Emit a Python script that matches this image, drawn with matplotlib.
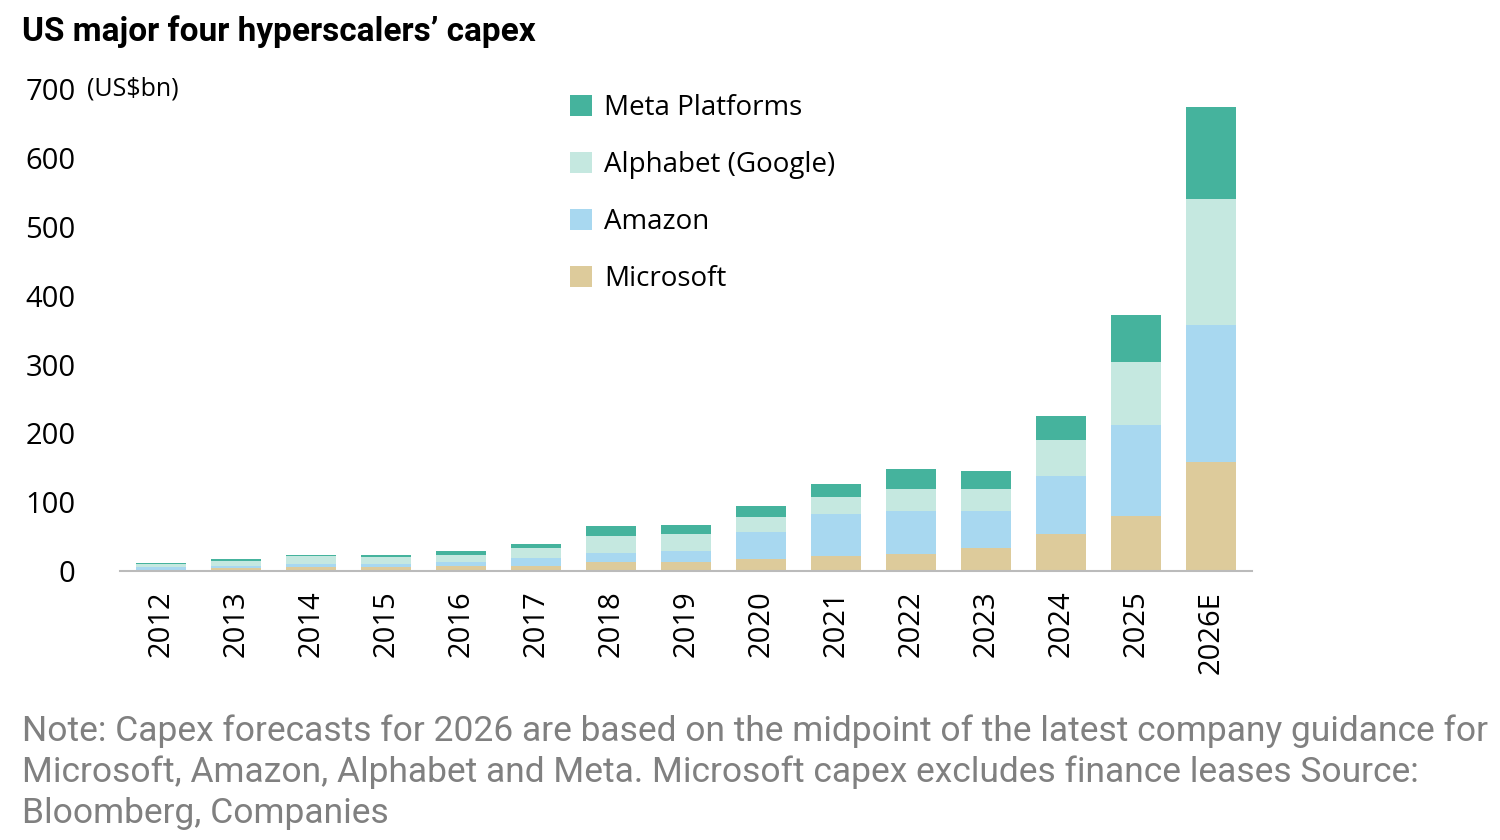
import matplotlib

matplotlib.use("Agg")
import matplotlib.pyplot as plt
import numpy as np

years = ["2012", "2013", "2014", "2015", "2016", "2017", "2018", "2019",
         "2020", "2021", "2022", "2023", "2024", "2025", "2026E"]
microsoft = [2, 4, 6, 6, 8, 8, 13, 13, 17, 22, 25, 33, 54, 80, 158]
amazon = [4, 3, 5, 5, 6, 11, 13, 16, 40, 61, 62, 54, 84, 132, 199]
alphabet = [5, 8, 11, 10, 10, 14, 25, 25, 21, 24, 32, 32, 52, 91, 184]
meta = [1, 2, 2, 3, 6, 6, 14, 13, 16, 19, 30, 27, 36, 69, 133]

series = [("Microsoft", microsoft, "#DDCB9B"),
          ("Amazon", amazon, "#A8D8F0"),
          ("Alphabet (Google)", alphabet, "#C5E8E0"),
          ("Meta Platforms", meta, "#45B39D")]

LABEL_FONT = ["Open Sans", "DejaVu Sans"]
plt.rcParams["font.family"] = ["Roboto", "DejaVu Sans"]
fig = plt.figure(figsize=(15, 8.4), dpi=100)
ax = fig.add_axes([0.08, 0.32, 0.755, 0.574])

x = np.arange(len(years))
bottom = np.zeros(len(years))
handles = []
for name, vals, col in series:
    h = ax.bar(x, vals, 0.67, bottom=bottom, color=col, label=name)
    handles.append(h)
    bottom += np.array(vals)

ax.set_ylim(0, 700)
ax.set_xlim(-0.55, len(years) - 0.45)
ax.set_yticks(range(0, 701, 100))
ax.set_yticklabels([str(v) for v in range(0, 701, 100)], fontsize=21, family=LABEL_FONT)
ax.tick_params(axis="y", length=0, pad=32)
fig.text(0.058, (840 - 89) / 840, "(US$bn)", fontsize=18, va="center", ha="left",
         family=LABEL_FONT)
ax.set_xticks(x)
ax.set_xticklabels(years, rotation=90, fontsize=21, family=LABEL_FONT)
ax.tick_params(axis="x", length=0, pad=14)
for s in ("top", "right", "left"):
    ax.spines[s].set_visible(False)
ax.spines["bottom"].set_color("#BBBBBB")
ax.spines["bottom"].set_linewidth(1.5)

ax.legend(handles[::-1], [s[0] for s in series][::-1], loc="upper left",
          bbox_to_anchor=(0.397, 0.99), frameon=False, borderpad=0,
          borderaxespad=0, handlelength=0.8, handleheight=0.8,
          handletextpad=0.45, labelspacing=1.05,
          prop={"family": LABEL_FONT, "size": 20})

fig.text(0.015, 0.962, "US major four hyperscalers\u2019 capex", fontsize=24,
         fontweight="bold", va="center")
fig.text(0.015, 0.012,
         "Note: Capex forecasts for 2026 are based on the midpoint of the latest company guidance for\n"
         "Microsoft, Amazon, Alphabet and Meta. Microsoft capex excludes finance leases Source:\n"
         "Bloomberg, Companies",
         fontsize=25.5, color="#808080", va="bottom", linespacing=1.3)

fig.savefig("out.png")
